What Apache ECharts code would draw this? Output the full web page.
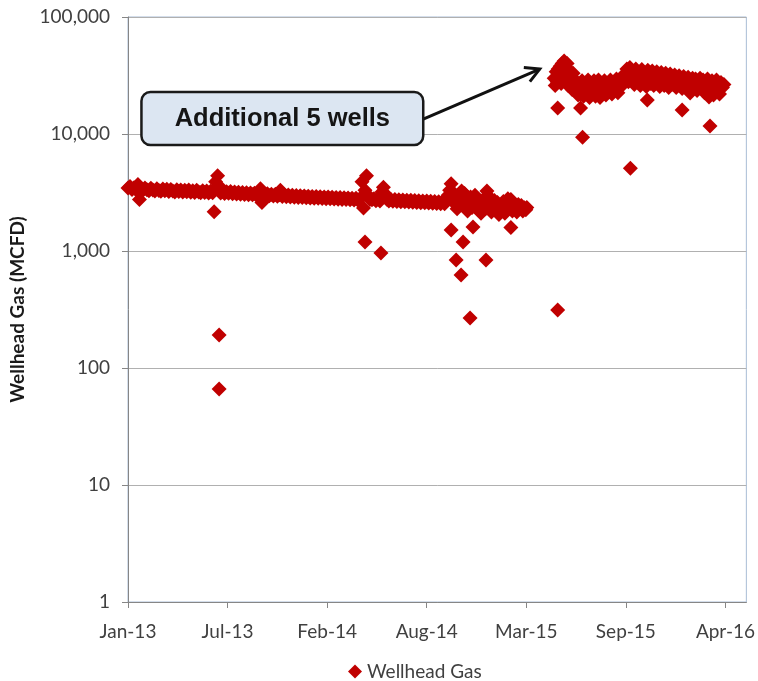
<!DOCTYPE html>
<html><head><meta charset="utf-8">
<script src="https://cdn.jsdelivr.net/npm/echarts@6/dist/echarts.min.js"></script>
<style>html,body{margin:0;padding:0;background:#fff}#chart{width:758px;height:681px}</style>
</head><body><div id="chart"></div>
<script>
// x values are days since 1 Jan 2013; axis ticks every 200 days
const xTickLabels = ['Jan-13','Jul-13','Feb-14','Aug-14','Mar-15','Sep-15','Apr-16'];
const xTickStepDays = 200;
const seriesName = 'Wellhead Gas';
const annotationText = 'Additional 5 wells';
const yAxisTitle = 'Wellhead Gas (MCFD)';

// original wells: dense daily band, [day, MCFD]
const phase1Band = [
[0,3460],[4,3560],[8,3360],[12,3470],[16,3340],[20,3700],[23,2750],[26,3420],[30,3310],[34,3460],[38,3330],[42,3280],[46,3440],[50,3320],[54,3260],[58,3410],[62,3290],[66,3240],[70,3390],[74,3270],[78,3370],[82,3220],[86,3350],[90,3250],[94,3200],[98,3340],
[102,3230],[106,3320],[110,3190],[114,3300],[118,3210],[122,3320],[126,3180],[130,3280],[134,3160],[138,3300],[142,3190],[146,3140],[150,3270],[154,3170],[158,3260],[162,3130],[166,3240],[170,3150],[173,2160],[176,3900],[180,4400],[183,3600],[186,3130],[190,3240],[194,3100],[198,3210],
[202,3110],[206,3220],[210,3080],[214,3190],[218,3070],[222,3180],[226,3060],[230,3160],[234,3040],[238,3150],[242,3030],[246,3130],[250,3020],[254,3120],[258,3000],[262,3100],[266,3400],[269,2600],[272,3070],[276,2980],[280,3090],[284,2970],[288,3060],[292,2950],[296,3050],
[300,2940],[304,3030],[306,3300],[310,2930],[314,3020],[318,2910],[322,3010],[326,2900],[330,2990],[334,2880],[338,2980],[342,2870],[346,2970],[350,2860],[354,2950],[358,2850],[362,2940],[366,2840],[370,2930],[374,2830],[378,2920],[382,2820],[386,2910],[390,2810],[394,2900],[398,2800],
[402,2890],[406,2790],[410,2880],[414,2780],[418,2870],[422,2770],[426,2860],[430,2760],[434,2850],[438,2750],[442,2840],[446,2740],[450,2830],[454,2730],[458,2820],[462,2720],[466,2810],[470,3900],[473,2330],[476,3300],[479,4400],[482,3000],[486,2760],[490,2740],[494,2790],[498,2690],
[502,2780],[506,2680],[510,3200],[513,3500],[516,3100],[520,2770],[524,2670],[528,2760],[532,2660],[536,2750],[540,2650],[544,2740],[548,2640],[552,2730],[556,2630],[560,2720],[564,2620],[568,2710],[572,2610],[576,2700],[580,2600],[584,2690],[588,2590],[592,2680],[596,2580],
[600,2670],[604,2570],[608,2660],[612,2560],[616,2650],[620,2550],[624,2640],[628,2540],[632,2630],[636,2530],[640,2750],[643,3000],[646,3300],[649,3750],[652,3200],[655,2900],[658,2500],[661,2300],[664,2800],[667,3000],[670,3250],[673,2700],[676,3100],[679,2400],[682,2200],[685,2600],[688,2900],[691,2350],[694,2750],[697,3000],
[700,2500],[703,2250],[706,2650],[709,2100],[712,2450],[715,2800],[718,2300],[721,3250],[724,2950],[727,2550],[730,2150],[733,2400],[736,2700],[739,2250],[742,2600],[745,2050],[748,2450],[751,2300],[754,2650],[757,2100],[760,2500],[763,2800],[766,2350],[769,2760],[772,2200],[775,2550],[778,2400],[781,2150],[784,2500],[787,2300],[790,2450],[793,2200],[796,2340],[799,2250],[801,2350]
];
const phase1Outliers = [
[183,191],[183,66],[476,1194],[508,962],[649,1510],[673,1194],[693,1600],[769,1590],[659,838],[669,624],[719,838],[687,267]
];
// after the additional 5 wells
const phase2Band = [
[856,30000],[858,26000],[860,34000],[862,28000],[864,36000],[866,31000],[868,38000],[870,27000],[872,40000],[874,33000],[876,42000],[878,37000],[880,30000],[882,40000],[884,26000],[886,35000],[888,31000],[890,28000],[892,24000],[894,33000],[896,26000],[898,29000],
[900,23000],[902,27000],[904,21500],[906,25000],[908,22000],[910,27000],
[912,28500],[915,21000],[918,26000],[921,23500],[924,29000],[927,20500],[930,27000],[933,22500],[936,28500],[939,21000],[942,25000],[945,29000],[948,20500],[951,26500],[954,23000],[957,28500],[960,21500],[963,27000],[966,24000],[969,29000],[972,22000],[975,27500],[978,25000],[981,29500],[984,22500],[987,28000],[990,25500],[993,31000],[996,27000],[999,33000],
[1002,36000],[1005,28000],[1008,37000],[1011,30000],[1014,34000],[1017,26500],[1020,36000],[1023,29000],[1026,33000],[1029,26000],[1032,35500],[1035,28000],[1038,32000],[1041,25500],[1044,35000],[1047,29500],[1050,27000],[1053,34500],[1056,26000],[1059,31000],[1062,34000],[1065,27500],[1068,25500],[1071,33500],[1074,29000],[1077,26000],[1080,33000],[1083,28000],[1086,25000],[1089,32500],[1092,29500],[1095,26500],[1098,32000],
[1101,25000],[1104,30000],[1107,31500],[1110,27000],[1113,24500],[1116,31000],[1119,28000],[1122,25000],[1125,30500],[1128,27000],[1131,24000],[1134,30000],[1137,26500],[1140,29500],[1143,23500],[1146,28000],[1149,30000],[1152,25000],[1155,29000],[1158,22500],[1161,27500],[1164,29500],[1167,23000],[1170,26500],[1173,28500],[1176,21500],[1179,27000],[1182,29000],[1185,24000],[1188,22000],[1191,27500],[1194,25000],[1197,26500]
];
const phase2Outliers = [
[863,16700],[909,16700],[913,9400],[1009,5100],[1043,19500],[1113,16000],[1129,22400],[1167,20700],[1169,11700],[863,313]
];
// annotation anchors in data coordinates [day, MCFD]
const calloutBoxCorners = [[27,22860],[593,8050]];
const calloutArrow = [[593,13400],[827,35900]];

const allPoints = phase1Band.concat(phase1Outliers, phase2Band, phase2Outliers);
const FONT = 'Lato, "Liberation Sans", sans-serif';

const chart = echarts.init(document.getElementById('chart'), null, {renderer:'canvas'});
const option = {
  animation: false,
  backgroundColor: '#fff',
  grid: {left:128, right:9, top:17, bottom:79, show:true, borderColor:'#a9bdd6', borderWidth:1, backgroundColor:'transparent'},
  xAxis: {
    type:'value', min:0, max:1242, interval:xTickStepDays,
    axisLine:{show:true, onZero:false, lineStyle:{color:'#868686', width:1}},
    axisTick:{show:true, length:6, lineStyle:{color:'#868686'}},
    splitLine:{show:false},
    axisLabel:{margin:20, fontSize:19, fontFamily:FONT, color:'#404040', showMaxLabel:false,
      formatter:v => (v % xTickStepDays === 0 ? (xTickLabels[v / xTickStepDays] || '') : '')}
  },
  yAxis: {
    type:'log', logBase:10, min:1, max:100000,
    name:yAxisTitle, nameLocation:'middle', nameGap:101,
    nameTextStyle:{fontSize:19, fontWeight:'bold', fontFamily:FONT, color:'#1a1a1a'},
    axisLine:{show:true, lineStyle:{color:'#868686', width:1}},
    axisTick:{show:true, length:6, lineStyle:{color:'#868686'}},
    splitLine:{show:true, lineStyle:{color:'#b0b0b0', width:1}},
    axisLabel:{margin:18, fontSize:19, fontFamily:FONT, color:'#404040',
      formatter:v => Math.round(v).toLocaleString('en-US')}
  },
  legend: {
    data:[seriesName], left:343, top:657, icon:'diamond', itemWidth:14, itemHeight:14, itemGap:5,
    textStyle:{fontSize:19, fontFamily:FONT, color:'#404040', padding:[0,0,0,0]}
  },
  series: [{
    name:seriesName, type:'scatter', symbol:'diamond', symbolSize:15,
    itemStyle:{color:'#c00000', opacity:1},
    data:allPoints
  }]
};
chart.setOption(option);

const px = d => chart.convertToPixel({gridIndex:0}, d);
const b1 = px(calloutBoxCorners[0]), b2 = px(calloutBoxCorners[1]);
const a1 = px(calloutArrow[0]), a2 = px(calloutArrow[1]);
const ang = Math.atan2(a2[1]-a1[1], a2[0]-a1[0]);
const headLen = 16, spread = 0.5;
const h1 = [a2[0]-headLen*Math.cos(ang-spread), a2[1]-headLen*Math.sin(ang-spread)];
const h2 = [a2[0]-headLen*Math.cos(ang+spread), a2[1]-headLen*Math.sin(ang+spread)];
chart.setOption({
  graphic: [
    {type:'line', z:100, shape:{x1:a1[0], y1:a1[1], x2:a2[0], y2:a2[1]}, style:{stroke:'#111', lineWidth:3}},
    {type:'polyline', z:100, shape:{points:[h1, a2, h2]}, style:{stroke:'#111', lineWidth:3, fill:null, lineJoin:'miter'}},
    {type:'rect', z:101, shape:{x:b1[0], y:b1[1], width:b2[0]-b1[0], height:b2[1]-b1[1], r:9},
      style:{fill:'#dce6f2', stroke:'#1a1a1a', lineWidth:2.5}},
    {type:'text', z:102, x:(b1[0]+b2[0])/2, y:(b1[1]+b2[1])/2,
      style:{text:annotationText, fontSize:25.5, fontWeight:'bold', fontFamily:'"Liberation Sans", Arial, sans-serif', fill:'#151515', align:'center', verticalAlign:'middle'}}
  ]
});
</script></body></html>
